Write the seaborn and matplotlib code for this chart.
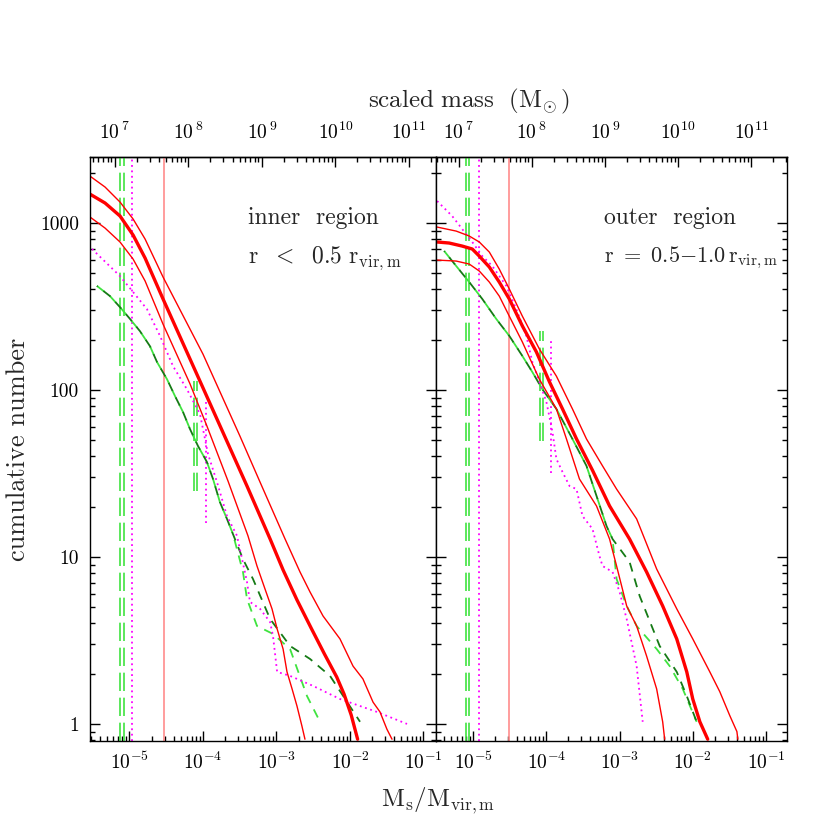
"""
Cumulative subhalo mass function, inner vs outer region
"""
import matplotlib
matplotlib.use("Agg")
import matplotlib.pyplot as plt
from matplotlib.ticker import NullFormatter
import seaborn as sns

MVIR = 10 ** 12.2  # scaled host mass used for the top axis

ratio_ticks = [1e-5, 1e-4, 1e-3, 1e-2, 1e-1]
ratio_labels = [r"$10^{-5}$", r"$10^{-4}$", r"$10^{-3}$", r"$10^{-2}$", r"$10^{-1}$"]
mass_ticks = [1e7, 1e8, 1e9, 1e10, 1e11]
mass_labels = [r"$10^{\,7}$", r"$10^{\,8}$", r"$10^{\,9}$", r"$10^{10}$", r"$10^{11}$"]
count_ticks = [1, 10, 100, 1000]
count_labels = ["1", "10", "100", "1000"]

# ---- inner region (r < 0.5 rvir) ----
in_mid_x = [2.9e-6, 4.65e-6, 7.43e-6, 1.12e-5, 1.63e-5, 2.86e-5, 1e-4, 3.97e-4, 8.2e-4, 1.23e-3,
            1.9e-3, 3.0e-3, 4.5e-3, 6.6e-3, 8.3e-3, 1.04e-2, 1.27e-2]
in_mid_y = [1490, 1318, 1102, 847, 617, 351, 103, 26.6, 12.8, 8.36, 5.53, 3.71, 2.62, 1.91, 1.51,
            1.13, 0.81]
in_hi_x = [2.9e-6, 4.65e-6, 7.43e-6, 1.12e-5, 1.63e-5, 2.86e-5, 1e-4, 3.18e-4, 5.97e-4, 1.31e-3,
           2.09e-3, 2.86e-3, 4.3e-3, 7.31e-3, 1.1e-2, 1.5e-2, 2.06e-2, 2.56e-2, 3.18e-2, 3.73e-2]
in_hi_y = [1910, 1643, 1336, 1057, 802, 475, 164, 53.0, 28.1, 12.8, 8.13, 6.17, 4.43, 3.23, 2.22,
           1.86, 1.35, 1.18, 0.93, 0.81]
in_lo_x = [2.9e-6, 4.65e-6, 7.43e-6, 1.12e-5, 1.63e-5, 2.86e-5, 6.65e-5, 1.13e-4, 2.19e-4, 4.09e-4,
           5.43e-4, 6.98e-4, 8.69e-4, 1.02e-3, 1.23e-3, 1.39e-3, 1.63e-3, 1.9e-3, 2.22e-3, 2.44e-3]
in_lo_y = [1087, 933, 770, 608, 450, 248, 109, 60.9, 28.5, 13.4, 8.83, 6.43, 4.89, 3.71, 2.81, 2.05,
           1.62, 1.28, 0.97, 0.81]
in_dg_x = [3.61e-6, 5.43e-6, 7.4e-6, 1.02e-5, 1.39e-5, 1.9e-5, 2.37e-5, 3.24e-5, 4.16e-5, 5.35e-5,
           6.65e-5, 8.55e-5, 1.13e-4, 1.37e-4, 1.7e-4, 2.12e-4, 2.56e-4, 3.5e-4, 4.79e-4, 8.2e-4,
           1.53e-3, 2.86e-3, 5.35e-3, 1.37e-2]
in_dg_y = [420, 365, 314, 266, 225, 183, 147, 116, 92, 73.8, 58.4, 46.2, 37.1, 29.3, 21.3, 16.9,
           13.7, 9.7, 7.38, 4.25, 2.93, 2.45, 1.94, 1.03]
in_lg_x = [3.61e-6, 5.43e-6, 7.4e-6, 1.02e-5, 1.39e-5, 1.9e-5, 2.37e-5, 3.24e-5, 4.16e-5, 5.35e-5,
           6.65e-5, 8.55e-5, 1.13e-4, 1.37e-4, 1.7e-4, 2.12e-4, 2.56e-4, 3.5e-4, 3.97e-4, 5.43e-4,
           8.96e-4, 1.53e-3, 2.6e-3, 3.91e-3]
in_lg_y = [420, 365, 314, 266, 225, 183, 147, 116, 92, 73.8, 58.4, 46.2, 37.1, 29.3, 21.3, 16.9,
           13.7, 8.13, 5.6, 3.86, 3.46, 2.81, 1.47, 1.03]
in_mg_x = [3.09e-6, 7.4e-6, 1.12e-5, 1.73e-5, 2.6e-5, 3.91e-5, 6.05e-5, 9.1e-5, 1.17e-4, 1.55e-4,
           2.12e-4, 2.9e-4, 3.4e-4, 3.97e-4, 4.36e-4, 5.97e-4, 8.17e-4, 8.96e-4, 1.02e-3, 1.53e-3,
           3.14e-3, 7.31e-3, 2.33e-2, 5.97e-2]
in_mg_y = [699, 482, 386, 305, 211, 139, 101, 71.8, 41.4, 28.1, 17.6, 13.4, 9.73, 7.08, 5.38, 4.89,
           4.08, 3.37, 2.05, 1.94, 1.69, 1.41, 1.18, 1.0]

# ---- outer region (r = 0.5-1.0 rvir) ----
out_mid_x = [3.21e-6, 4.69e-6, 7.06e-6, 9.7e-6, 1.21e-5, 1.66e-5, 2.27e-5, 3.11e-5, 4.69e-5, 7.3e-5,
             1.1e-4, 1.66e-4, 2.58e-4, 4.27e-4, 7.3e-4, 1.37e-3, 2.34e-3, 3.88e-3, 6.04e-3, 8.28e-3,
             1e-2, 1.25e-2, 1.6e-2]
out_mid_y = [770, 759, 728, 699, 634, 545, 443, 351, 242, 169, 112, 77, 50.9, 33, 20.2, 12.8, 8.13,
             5.09, 3.23, 2.05, 1.41, 1.03, 0.81]
out_hi_x = [3.21e-6, 5.85e-6, 8.82e-6, 1.21e-5, 1.66e-5, 2.27e-5, 3.11e-5, 4.69e-5, 8.02e-5, 1.37e-4,
            2.27e-4, 3.53e-4, 5.85e-4, 9.1e-4, 1.71e-3, 3.21e-3, 6.04e-3, 1e-2, 1.71e-2, 2.34e-2,
            3.21e-2, 4.01e-2, 4.13e-2]
out_hi_y = [946, 895, 836, 770, 670, 530, 403, 277, 176, 121, 77, 50.9, 35.1, 25.5, 16.9, 8.47, 4.89,
            3.23, 2.05, 1.56, 1.12, 0.9, 0.81]
out_lo_x = [3.21e-6, 5.85e-6, 8.82e-6, 1.21e-5, 1.66e-5, 2.27e-5, 3.11e-5, 4.69e-5, 8.02e-5, 1.37e-4,
            1.88e-4, 2.83e-4, 4.84e-4, 7.3e-4, 9.1e-4, 1.25e-3, 1.71e-3, 2.34e-3, 3.21e-3, 3.88e-3,
            4.13e-3]
out_lo_y = [600, 592, 568, 516, 443, 365, 277, 194, 116, 77, 50.9, 29.3, 20.2, 12.8, 8.83, 5.09, 3.86,
            2.55, 1.62, 1.03, 0.81]
out_dg_x = [4.01e-6, 5.85e-6, 8.82e-6, 1.33e-5, 2.07e-5, 3.11e-5, 4.69e-5, 6.43e-5, 8.82e-5, 1.37e-4,
            2.27e-4, 3.53e-4, 4.84e-4, 6.64e-4, 8.02e-4, 1.37e-3, 1.88e-3, 3.53e-3, 6.04e-3, 8.28e-3,
            1.13e-2]
out_dg_y = [680, 553, 443, 351, 266, 211, 160, 128, 101, 77, 50.9, 35.1, 23.2, 15.3, 12.8, 9.33, 5.84,
            2.93, 2.05, 1.47, 1.03]
out_lg_x = [4.01e-6, 5.85e-6, 8.82e-6, 1.33e-5, 2.07e-5, 3.11e-5, 4.69e-5, 6.43e-5, 8.82e-5, 1.37e-4,
            2.27e-4, 3.53e-4, 4.84e-4, 6.64e-4, 8.02e-4, 9.1e-4, 1.25e-3, 1.71e-3, 3.21e-3, 4.84e-3,
            7.3e-3, 1.13e-2]
out_lg_y = [680, 553, 443, 351, 266, 211, 160, 128, 101, 77, 50.9, 35.1, 23.2, 15.3, 12.8, 7.38, 5.09,
            3.86, 2.81, 2.22, 1.62, 1.03]
out_mg_x = [3.21e-6, 5.15e-6, 7.06e-6, 9.7e-6, 1.33e-5, 1.82e-5, 2.83e-5, 3.88e-5, 5.32e-5, 6.43e-5,
            8.02e-5, 1e-4, 1.21e-4, 1.37e-4, 1.66e-4, 2.07e-4, 2.58e-4, 3.11e-4, 4.27e-4, 5.32e-4,
            5.85e-4, 8.02e-4, 1e-3, 1.25e-3, 1.71e-3, 2.07e-3]
out_mg_y = [1355, 1102, 921, 770, 634, 553, 420, 305, 211, 147, 112, 84.8, 56.1, 38.6, 32.3, 26.6,
            25.5, 17.6, 14.7, 10.1, 8.83, 8.13, 6.17, 4.25, 2.22, 1.03]

# resolution limits: green pair, magenta, salmon, short green pair, short magenta
in_green_lim = [7.5e-6, 8.3e-6]
in_magenta_lim = 1.08e-5
in_red_lim = 2.95e-5
in_green_short = [7.5e-5, 8.3e-5]
in_green_short_y = [25, 113]
in_magenta_short = 1.1e-4
in_magenta_short_y = [16, 88]
out_green_lim = [8.0e-6, 8.8e-6]
out_magenta_lim = 1.2e-5
out_red_lim = 3.1e-5
out_green_short = [8.2e-5, 9.0e-5]
out_green_short_y = [49.5, 225]
out_magenta_short = 1.17e-4
out_magenta_short_y = [32, 196]

RED = "#ff0000"
SALMON = "#ff8c8c"
MAGENTA = "#ff00ff"
LGREEN = "#3fe33f"
DGREEN = "#157a15"

sns.set_theme(style="ticks")
plt.rcParams.update({
    "font.family": ["cmr10", "DejaVu Serif"],
    "mathtext.fontset": "cm",
    "axes.formatter.use_mathtext": True,
    "axes.linewidth": 1.0,
    "axes.edgecolor": "black",
    "xtick.color": "black",
    "ytick.color": "black",
})

fig = plt.figure(figsize=(8.3, 8.3), dpi=100)
ax1 = fig.add_axes([0.1084, 0.1072, 0.4169, 0.7036])
ax2 = fig.add_axes([0.5253, 0.1072, 0.4229, 0.7036])


def curve(ax, x, y, **kw):
    sns.lineplot(x=x, y=y, ax=ax, estimator=None, sort=False, **kw)


panels = [
    (ax1, (2.9e-6, 0.148), in_mid_x, in_mid_y, in_hi_x, in_hi_y, in_lo_x, in_lo_y,
     in_dg_x, in_dg_y, in_lg_x, in_lg_y, in_mg_x, in_mg_y,
     in_green_lim, in_magenta_lim, in_red_lim, in_green_short, in_green_short_y,
     in_magenta_short, in_magenta_short_y),
    (ax2, (3.1e-6, 0.194), out_mid_x, out_mid_y, out_hi_x, out_hi_y, out_lo_x, out_lo_y,
     out_dg_x, out_dg_y, out_lg_x, out_lg_y, out_mg_x, out_mg_y,
     out_green_lim, out_magenta_lim, out_red_lim, out_green_short, out_green_short_y,
     out_magenta_short, out_magenta_short_y),
]

for (ax, xlim, mx, my, hx, hy, lx, ly, dgx, dgy, lgx, lgy, mgx, mgy,
     glim, mlim, rlim, gshort, gshort_y, mshort, mshort_y) in panels:
    ax.set_xscale("log")
    ax.set_yscale("log")

    # resolution limits
    for xv in glim:
        ax.axvline(xv, color=LGREEN, lw=1.2, linestyle=(0, (11, 4)))
    ax.axvline(mlim, color=MAGENTA, lw=1.3, linestyle=(0, (1, 2)))
    ax.axvline(rlim, color=SALMON, lw=1.2)
    for xv in gshort:
        ax.vlines(xv, gshort_y[0], gshort_y[1], color=LGREEN, lw=1.2, linestyle=(0, (11, 4)))
    ax.vlines(mshort, mshort_y[0], mshort_y[1], color=MAGENTA, lw=1.3, linestyle=(0, (1, 2)))

    # mass functions
    curve(ax, lgx, lgy, color=LGREEN, linewidth=1.3, linestyle=(0, (5, 4)))
    curve(ax, dgx, dgy, color=DGREEN, linewidth=1.3, linestyle=(4.5, (5, 4)))
    curve(ax, mgx, mgy, color=MAGENTA, linewidth=1.3, linestyle=(0, (1, 2)))
    curve(ax, hx, hy, color=RED, linewidth=1.0)
    curve(ax, lx, ly, color=RED, linewidth=1.0)
    curve(ax, mx, my, color=RED, linewidth=2.4)

    ax.set_xlim(*xlim)
    ax.set_ylim(0.79, 2485)
    ax.set_xticks(ratio_ticks, labels=ratio_labels)
    ax.set_yticks(count_ticks, labels=count_labels if ax is ax1 else [])
    ax.xaxis.set_minor_formatter(NullFormatter())
    ax.yaxis.set_minor_formatter(NullFormatter())
    ax.tick_params(which="both", direction="in", top=False, right=True, left=True,
                   bottom=True, width=1.0, labelsize=14)
    ax.tick_params(which="major", length=7, pad=8)
    ax.tick_params(which="minor", length=3.5)
    ax.set_xlabel("")
    ax.set_ylabel("")
    for s in ax.spines.values():
        s.set_visible(True)
        s.set_color("black")

    sec = ax.secondary_xaxis("top", functions=(lambda r: r * MVIR, lambda m: m / MVIR))
    sec.set_xticks(mass_ticks, labels=mass_labels)
    sec.xaxis.set_minor_formatter(NullFormatter())
    sec.tick_params(which="both", direction="in", width=1.0, labelsize=14)
    sec.tick_params(which="major", length=7, pad=10)
    sec.tick_params(which="minor", length=3.5)

ax1.text(0.457, 0.896, "inner  region", transform=ax1.transAxes, fontsize=17, va="center")
ax1.text(0.457, 0.827, r"$\mathrm{r\ \ <\ \ 0.5\ r_{vir,m}}$", transform=ax1.transAxes,
         fontsize=17, va="center")
ax2.text(0.48, 0.896, "outer  region", transform=ax2.transAxes, fontsize=17, va="center")
ax2.text(0.48, 0.827, r"$\mathrm{r\ =\ 0.5{-}1.0\,r_{vir,m}}$", transform=ax2.transAxes,
         fontsize=16, va="center")

fig.text(0.022, 0.458, "cumulative number", rotation=90, va="center", ha="center", fontsize=19)
fig.text(0.528, 0.036, r"$\mathrm{M_s/M_{vir,m}}$", va="center", ha="center", fontsize=18)
fig.text(0.565, 0.878, r"$\mathrm{scaled\ mass\ \ (M_{\!\odot})}$", va="center", ha="center",
         fontsize=18)

fig.savefig("out.png", dpi=100, facecolor="white")
